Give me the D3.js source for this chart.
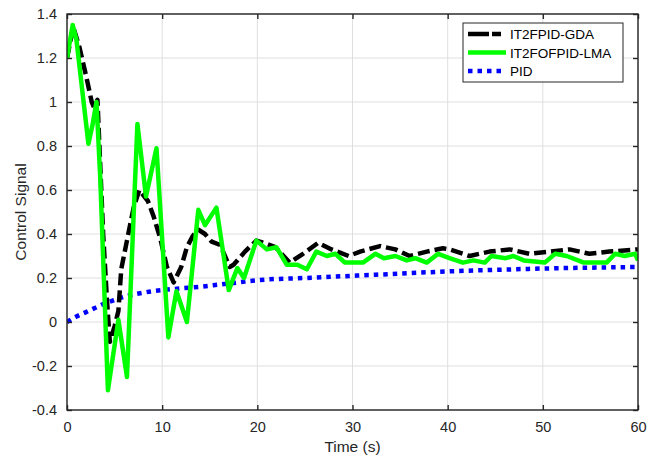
<!DOCTYPE html>
<html>
<head>
<meta charset="utf-8">
<script src="https://cdn.jsdelivr.net/npm/d3@7"></script>
<style>
  html, body { margin: 0; padding: 0; background: #fff; }
  svg { display: block; font-family: "Liberation Sans", Arial, sans-serif; }
</style>
</head>
<body>
<svg id="chart" width="649" height="466"></svg>
<script>
// ---------------- data ----------------
const xTicks = [0, 10, 20, 30, 40, 50, 60];
const yTicks = [-0.4, -0.2, 0, 0.2, 0.4, 0.6, 0.8, 1, 1.2, 1.4];
const seriesNames = ["IT2FPID-GDA", "IT2FOFPID-LMA", "PID"];

// IT2FPID-GDA (black dashed)
const gdaT = [0, 0.66, 1.3, 2.0, 2.6, 2.9, 3.2, 3.8, 4.2, 4.5, 5.0, 5.4, 5.7, 6.3, 7.0, 7.6, 8.5, 9.1, 9.8, 10.5, 11.2, 12.0, 12.6, 13.2, 13.8, 14.5, 15.2, 16.1, 17.1, 17.5, 18.7, 19.9, 21.0, 21.9, 23.4, 24.8, 26.4, 27.8, 29.6, 30.8, 32.9, 34.5, 36.0, 37.8, 39.5, 40.2, 42.3, 44.4, 46.5, 48.6, 50.7, 52.8, 54.9, 57.0, 59.9, 60];
const gdaV = [1.20, 1.34, 1.25, 1.12, 1.0, 0.97, 1.01, 0.40, 0.10, -0.09, -0.02, 0.05, 0.24, 0.37, 0.52, 0.60, 0.55, 0.48, 0.38, 0.25, 0.18, 0.25, 0.34, 0.39, 0.42, 0.40, 0.365, 0.35, 0.25, 0.26, 0.32, 0.37, 0.355, 0.34, 0.27, 0.31, 0.36, 0.33, 0.30, 0.32, 0.345, 0.33, 0.30, 0.32, 0.335, 0.33, 0.30, 0.32, 0.33, 0.31, 0.32, 0.33, 0.31, 0.32, 0.33, 0.33];

// IT2FOFPID-LMA (green solid)
const lmaT = [0, 0.6, 1.0, 2.25, 2.7, 3.1, 3.5, 4.3, 5.4, 6.3, 7.4, 8.3, 9.4, 10.65, 11.5, 12.6, 13.8, 14.5, 15.7, 17.0, 17.9, 18.6, 19.9, 21.0, 22.0, 23.1, 24.2, 25.2, 26.2, 27.3, 28.2, 29.2, 31.1, 32.4, 33.3, 34.5, 35.7, 36.6, 37.8, 39.0, 40.2, 41.6, 42.7, 43.9, 44.6, 46.1, 46.9, 48.0, 50.2, 51.3, 52.5, 54.3, 56.7, 57.6, 58.6, 59.7, 60];
const lmaV = [1.20, 1.35, 1.28, 0.81, 0.90, 1.00, 0.65, -0.31, 0.01, -0.25, 0.90, 0.57, 0.79, -0.07, 0.14, 0.00, 0.51, 0.44, 0.52, 0.145, 0.245, 0.20, 0.37, 0.33, 0.34, 0.26, 0.26, 0.24, 0.32, 0.30, 0.31, 0.27, 0.27, 0.31, 0.29, 0.30, 0.28, 0.29, 0.27, 0.31, 0.29, 0.27, 0.28, 0.27, 0.30, 0.29, 0.30, 0.28, 0.27, 0.31, 0.30, 0.27, 0.27, 0.31, 0.30, 0.31, 0.28];

// PID (blue dotted)
const pidT = [0, 1, 2, 3, 4, 5, 6, 7, 8, 9, 10, 12, 14, 16, 18, 20, 25, 30, 35, 40, 45, 50, 55, 60];
const pidV = [0, 0.025, 0.045, 0.065, 0.085, 0.10, 0.115, 0.125, 0.133, 0.14, 0.145, 0.153, 0.16, 0.17, 0.18, 0.19, 0.20, 0.21, 0.22, 0.23, 0.237, 0.243, 0.247, 0.25];

// ---------------- chart ----------------
const W = 649, H = 466;
const M = { left: 67, top: 14, right: 11, bottom: 56 };
const pw = W - M.left - M.right, ph = H - M.top - M.bottom;
const axisColor = "#262626";

const svg = d3.select("#chart");
const x = d3.scaleLinear().domain([0, 60]).range([M.left, M.left + pw]);
const y = d3.scaleLinear().domain([-0.4, 1.4]).range([M.top + ph, M.top]);

const fmt = v => String(+v.toFixed(1));

// grid
const grid = svg.append("g");
grid.selectAll("line.gx").data(xTicks).join("line")
  .attr("x1", d => x(d)).attr("x2", d => x(d))
  .attr("y1", M.top).attr("y2", M.top + ph)
  .attr("stroke", "#dfdfdf").attr("stroke-width", 1);
grid.selectAll("line.gy").data(yTicks).join("line")
  .attr("y1", d => y(d)).attr("y2", d => y(d))
  .attr("x1", M.left).attr("x2", M.left + pw)
  .attr("stroke", "#dfdfdf").attr("stroke-width", 1);

// series
svg.append("clipPath").attr("id", "clip").append("rect")
  .attr("x", M.left).attr("y", M.top).attr("width", pw).attr("height", ph);
const plot = svg.append("g").attr("clip-path", "url(#clip)");

const mk = (T, V) => T.map((t, i) => [t, V[i]]);
const lineLin = d3.line().x(d => x(d[0])).y(d => y(d[1]));
const lineSmooth = d3.line().x(d => x(d[0])).y(d => y(d[1])).curve(d3.curveMonotoneX);

plot.append("path").datum(mk(pidT, pidV))
  .attr("d", lineSmooth).attr("fill", "none")
  .attr("stroke", "#0000ff").attr("stroke-width", 4.5)
  .attr("stroke-dasharray", "4.5,5");

plot.append("path").datum(mk(gdaT, gdaV))
  .attr("d", lineLin).attr("fill", "none")
  .attr("stroke", "#000").attr("stroke-width", 4.5)
  .attr("stroke-dasharray", "12,5").attr("stroke-linejoin", "round");

plot.append("path").datum(mk(lmaT, lmaV))
  .attr("d", lineLin).attr("fill", "none")
  .attr("stroke", "#00ff00").attr("stroke-width", 4.5)
  .attr("stroke-linejoin", "round");

// axes
const xAxisB = d3.axisBottom(x).tickValues(xTicks).tickSize(-5).tickPadding(12).tickFormat(fmt);
const xAxisT = d3.axisTop(x).tickValues(xTicks).tickSize(-5).tickFormat("");
const yAxisL = d3.axisLeft(y).tickValues(yTicks).tickSize(-5).tickPadding(10).tickFormat(fmt);
const yAxisR = d3.axisRight(y).tickValues(yTicks).tickSize(-5).tickFormat("");

function style(g) {
  g.selectAll("path.domain").attr("stroke", axisColor).attr("stroke-width", 1.4);
  g.selectAll(".tick line").attr("stroke", axisColor).attr("stroke-width", 1.4);
  g.selectAll(".tick text").attr("fill", axisColor).attr("font-size", 14.5)
    .attr("font-family", "Liberation Sans, Arial, sans-serif");
}
svg.append("g").attr("transform", `translate(0,${M.top + ph})`).call(xAxisB).call(style);
svg.append("g").attr("transform", `translate(0,${M.top})`).call(xAxisT).call(style);
svg.append("g").attr("transform", `translate(${M.left},0)`).call(yAxisL).call(style);
svg.append("g").attr("transform", `translate(${M.left + pw},0)`).call(yAxisR).call(style);
svg.selectAll("path.domain").attr("d", null);
svg.append("rect").attr("x", M.left).attr("y", M.top).attr("width", pw).attr("height", ph)
  .attr("fill", "none").attr("stroke", axisColor).attr("stroke-width", 1.4);

// axis labels
svg.append("text").attr("x", x(30)).attr("y", 452).attr("text-anchor", "middle")
  .attr("font-size", 15.5).attr("fill", axisColor).text("Time (s)");
svg.append("text").attr("transform", `translate(26,212) rotate(-90)`).attr("text-anchor", "middle")
  .attr("font-size", 15.5).attr("fill", axisColor).text("Control Signal");

// legend
const lg = svg.append("g");
lg.append("rect").attr("x", 463).attr("y", 23).attr("width", 160).attr("height", 59)
  .attr("fill", "#fff").attr("stroke", axisColor).attr("stroke-width", 1);
const legendStyles = [
  { stroke: "#000", dash: "21,3,9,100" },
  { stroke: "#00ff00", dash: null },
  { stroke: "#0000ff", dash: "4.5,5" }
];
const rowsY = [34, 52.5, 71];
seriesNames.forEach((name, i) => {
  const ln = lg.append("line").attr("x1", 468).attr("x2", 506).attr("y1", rowsY[i]).attr("y2", rowsY[i])
    .attr("stroke", legendStyles[i].stroke).attr("stroke-width", 4.5);
  if (legendStyles[i].dash) ln.attr("stroke-dasharray", legendStyles[i].dash);
  lg.append("text").attr("x", 510).attr("y", rowsY[i] + 5).attr("font-size", 13.5)
    .attr("fill", "#000").text(name);
});
</script>
</body>
</html>
